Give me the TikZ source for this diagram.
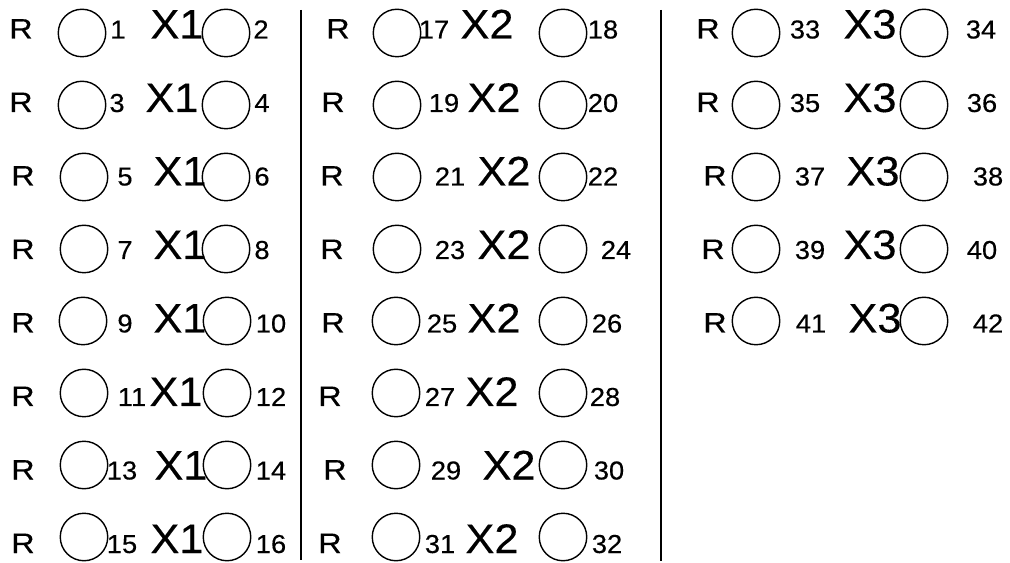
\documentclass[tikz,border=0pt]{standalone}
\usepackage{fontspec}
\setmainfont{Liberation Sans}[FakeStretch=1.05,FakeBold=0.3]
\newfontfamily\widefont{Liberation Sans}[FakeStretch=1.15,FakeBold=0.3]
\usetikzlibrary{positioning}
\tikzset{
  rlab/.style={inner sep=0pt,anchor=base,font=\widefont\fontsize{16}{17}\selectfont},
  num/.style={inner sep=0pt,anchor=base,font=\fontsize{14.8}{15}\selectfont},
  xlab/.style={inner sep=0pt,anchor=base,font=\fontsize{23.5}{24}\selectfont},
  port/.style={circle,draw,line width=0.8pt,minimum size=0.95cm,inner sep=0pt},
  sep/.style={line width=0.9pt},
}
\begin{document}
\begin{tikzpicture}[x=0.02cm,y=-0.02cm]
  \useasboundingbox (0,0) rectangle (1010,563);
  % one entry per row: group / row in column / R, left circle, left number, X, right circle, right number
  \foreach \g/\j/\rx/\cl/\nl/\xx/\cr/\nr [count=\k] in {
    1/0/21/82/118/177/226/261,
    1/1/21/82/117/172/226/262,
    1/2/23/84/125/180/226/262,
    1/3/23/84/125/180/226/262,
    1/4/23/83/125/180/227/271,
    1/5/23/84/132/176/227/271,
    1/6/23/84/122/181/227/271,
    1/7/23/84/122/177/227/271,
    2/0/338/397/434/487/563/603,
    2/1/333/397/444/494/563/603,
    2/2/332/397/450/504/563/603,
    2/3/332/397/450/504/563/616,
    2/4/333/396/442/494/563/607,
    2/5/330/396/440/492/563/605,
    2/6/335/396/446/509/563/609,
    2/7/330/396/440/492/563/607,
    3/0/708/756/805/870/924/981,
    3/1/708/756/805/870/924/982,
    3/2/715/756/810/873/924/988,
    3/3/713/756/810/870/924/982,
    3/4/715/756/811/875/924/988}
  {
    \pgfmathtruncatemacro{\a}{2*\k-1}
    \pgfmathtruncatemacro{\b}{2*\k}
    \pgfmathsetmacro{\cy}{33+72*\j}
    \pgfmathsetmacro{\ty}{38.5+73.5*\j}
    \node[rlab] (r\k) at (\rx,\ty) {R};
    \node[port] (p\a) at (\cl,\cy) {};
    \node[num] (n\a) at (\nl,\ty) {\a};
    \node[xlab] (x\k) at (\xx,\ty) {X\g};
    \node[port] (p\b) at (\cr,\cy) {};
    \node[num] (n\b) at (\nr,\ty) {\b};
  }
  % separators
  \coordinate (s1top) at (301,10);
  \coordinate (s1bot) at (301,560);
  \coordinate (s2top) at (661,10);
  \coordinate (s2bot) at (661,561);
  \draw[sep] (s1top) -- (s1bot);
  \draw[sep] (s2top) -- (s2bot);
\end{tikzpicture}
\end{document}
